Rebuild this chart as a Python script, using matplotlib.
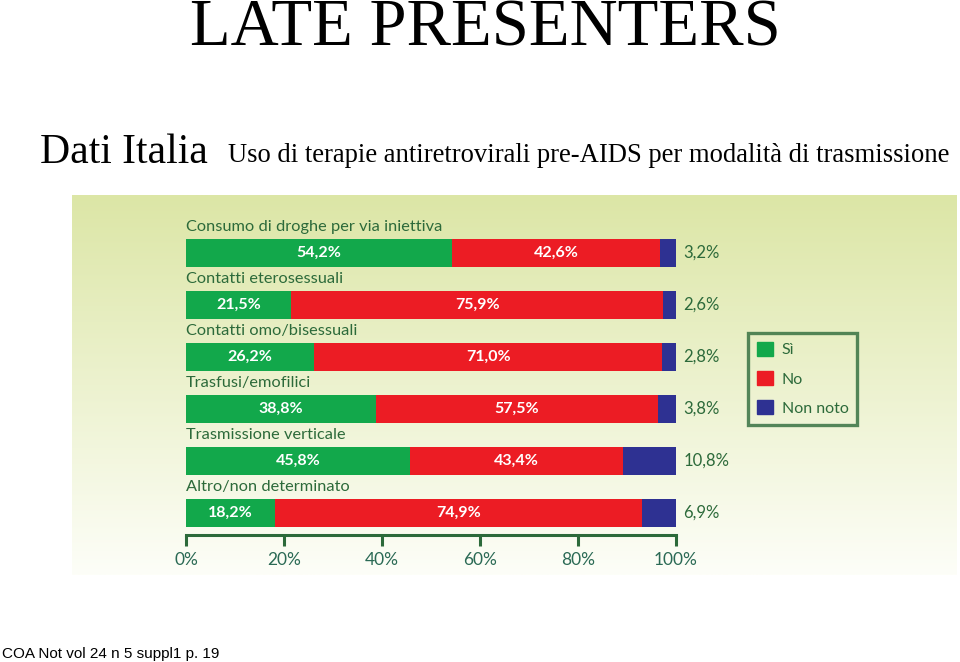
import numpy as np
import matplotlib
matplotlib.use("Agg")
import matplotlib.pyplot as plt
from matplotlib.patches import Patch

categories = ["Consumo di droghe per via iniettiva", "Contatti eterosessuali",
              "Contatti omo/bisessuali", "Trasfusi/emofilici",
              "Trasmissione verticale", "Altro/non determinato"]
si = [54.2, 21.5, 26.2, 38.8, 45.8, 18.2]
no = [42.6, 75.9, 71.0, 57.5, 43.4, 74.9]
non_noto = [3.2, 2.6, 2.8, 3.8, 10.8, 6.9]
tick_vals = [0, 20, 40, 60, 80, 100]
tick_labels = ["0%", "20%", "40%", "60%", "80%", "100%"]
legend_labels = ["Sì", "No", "Non noto"]

GREEN = "#12a84b"
RED = "#ec1c24"
BLUE = "#2e3192"
DKGREEN = "#2c6a3a"
TICKCOL = "#2b6a55"
SANS = "Lato"

def fmt(v):
    return f"{v:.1f}".replace(".", ",") + "%"

W, H = 960, 662
fig = plt.figure(figsize=(W / 100, H / 100), dpi=100)
fig.patch.set_facecolor("white")

# background panel with vertical gradient
bg = fig.add_axes([72 / W, 1 - 575 / H, (957 - 72) / W, (575 - 195) / H])
top = np.array([220, 230, 166]) / 255
bot = np.array([253, 254, 248]) / 255
t = np.linspace(0, 1, 256)[:, None]
grad = top[None, :] * (1 - t) + bot[None, :] * t
img = np.repeat(grad[:, None, :], 2, axis=1)
bg.imshow(img, aspect="auto", extent=[0, 1, 0, 1], origin="upper")
bg.set_axis_off()

# bar axes
ax = fig.add_axes([186 / W, 1 - 535 / H, 490 / W, 320 / H])
ax.patch.set_alpha(0)
y = np.arange(len(categories))
h = 0.54
si_a = np.array(si); no_a = np.array(no); nn_a = np.array(non_noto)
ax.barh(y, si_a, height=h, color=GREEN, label=legend_labels[0])
ax.barh(y, no_a, left=si_a, height=h, color=RED, label=legend_labels[1])
ax.barh(y, nn_a, left=si_a + no_a, height=h, color=BLUE, label=legend_labels[2])

for i in range(len(categories)):
    ax.text(si_a[i] / 2, y[i], fmt(si_a[i]), color="white", fontsize=11.5,
            fontweight="bold", ha="center", va="center", family=SANS)
    ax.text(si_a[i] + no_a[i] / 2, y[i], fmt(no_a[i]), color="white", fontsize=11.5,
            fontweight="bold", ha="center", va="center", family=SANS)
    ax.text(101.5, y[i], fmt(nn_a[i]), color=DKGREEN, fontsize=12,
            ha="left", va="center", family=SANS)
    ax.text(0, y[i] - 0.5, categories[i], color=DKGREEN, fontsize=11.8,
            ha="left", va="center", family=SANS)

ax.set_xlim(0, 100)
ax.set_ylim(5.423, -0.731)
ax.set_yticks([])
ax.set_xticks(tick_vals)
ax.set_xticklabels(tick_labels, family=SANS, fontsize=12.5, color=TICKCOL)
for s in ["top", "left", "right"]:
    ax.spines[s].set_visible(False)
ax.spines["bottom"].set_color(DKGREEN)
ax.spines["bottom"].set_linewidth(2.2)
ax.tick_params(axis="x", direction="out", length=8, width=2.2, color=DKGREEN, pad=4)

handles = [Patch(color=GREEN), Patch(color=RED), Patch(color=BLUE)]
leg = fig.legend(handles, legend_labels, loc="upper left",
                 bbox_to_anchor=(748 / W, 1 - 333 / H), frameon=True,
                 fancybox=False, handlelength=1.0, handleheight=1.0,
                 labelspacing=0.85, handletextpad=0.55, borderpad=0.55,
                 borderaxespad=0.0,
                 prop={"family": SANS, "size": 11.5})
leg.get_frame().set_edgecolor(DKGREEN)
leg.get_frame().set_linewidth(2.4)
leg.get_frame().set_facecolor("none")
for txt in leg.get_texts():
    txt.set_color(DKGREEN)

# titles
fig.text(485 / W, 1 - 46 / H, "LATE PRESENTERS", family="Liberation Serif",
         fontsize=48, ha="center", va="baseline", color="black")
fig.text(40 / W, 1 - 163 / H, "Dati Italia", family="Liberation Serif",
         fontsize=30, ha="left", va="baseline", color="black")
fig.text(228 / W, 1 - 162 / H,
         "Uso di terapie antiretrovirali pre-AIDS per modalità di trasmissione",
         family="Liberation Serif", fontsize=19.2, ha="left", va="baseline", color="black")
fig.text(2 / W, 1 - 658 / H, "COA Not vol 24 n 5 suppl1 p. 19",
         family="Liberation Sans", fontsize=11, ha="left", va="baseline", color="black")

fig.savefig("out.png", dpi=100)
